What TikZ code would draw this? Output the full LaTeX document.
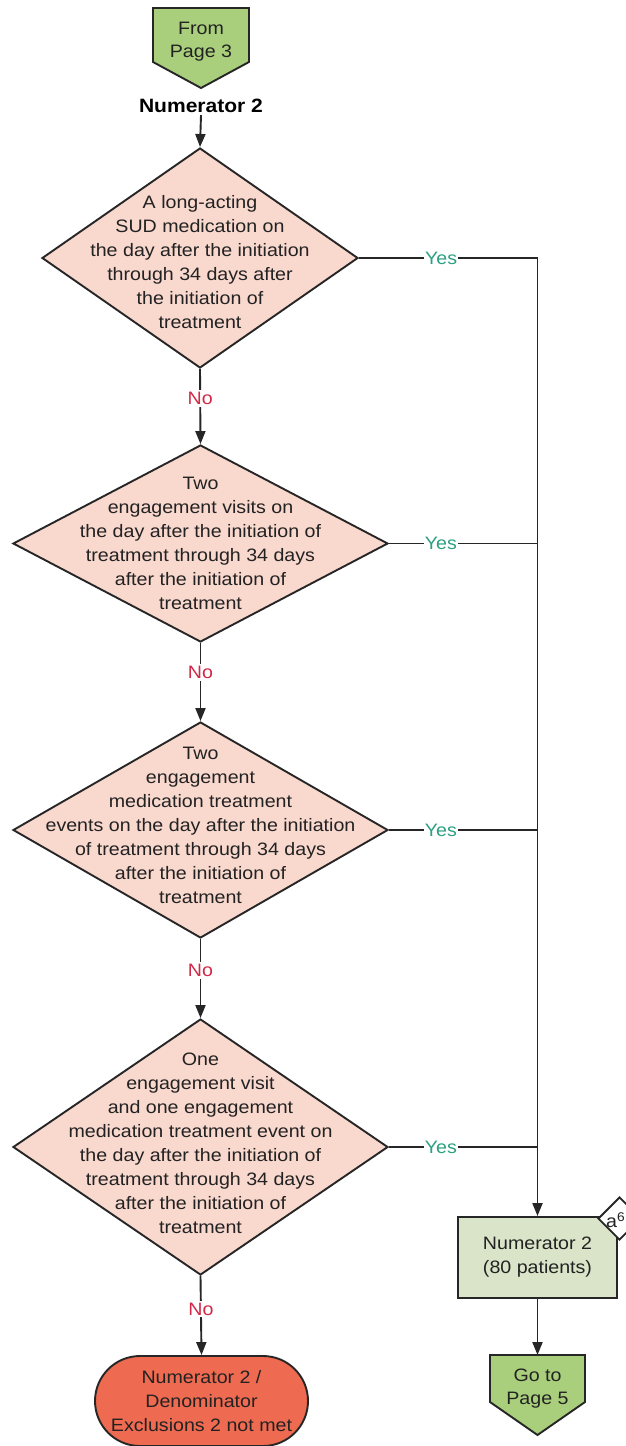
\documentclass[tikz,border=0pt]{standalone}
\usepackage{fontspec}
\setmainfont{Liberation Sans}[FakeStretch=1.09]
\usetikzlibrary{shapes.geometric,arrows.meta}
\definecolor{dfill}{HTML}{F9D8CE}
\definecolor{pgreen}{HTML}{A9CF7D}
\definecolor{boxc}{HTML}{DAE4C8}
\definecolor{termc}{HTML}{EE6A50}
\definecolor{yesc}{HTML}{2CA082}
\definecolor{noc}{HTML}{D22846}
\definecolor{linec}{HTML}{262626}
\definecolor{textc}{HTML}{222222}
\begin{document}
\begin{tikzpicture}[x=1pt,y=-1pt,
  line/.style={draw=linec, line width=1.9pt},
  arr/.style={line, -{Triangle[length=13pt,width=10pt]}},
  dec/.style={diamond, draw=linec, line width=1.9pt, fill=dfill, inner sep=0pt},
  txt/.style={align=center, font=\fontsize{18}{24}\selectfont, text=textc, inner sep=0pt},
  yes/.style={font=\fontsize{18}{20}\selectfont, text=yesc, fill=white, inner sep=1pt},
  no/.style={font=\fontsize{18}{20}\selectfont, text=noc, fill=white, inner sep=2pt}]
\useasboundingbox (0,0) rectangle (626,1446);
\fill[white] (0,0) rectangle (626,1446);

% From Page 3
\coordinate (p3tip) at (201,88);
\draw[line, fill=pgreen, line join=miter] (153,8) -- (249,8) -- (249,62) -- (p3tip) -- (153,62) -- cycle;
\node[txt, font=\fontsize{18}{23}\selectfont] (p3t) at (201,42) {From\\Page 3};
\node[font=\bfseries\fontsize{19.3}{22}\selectfont, text=black, inner sep=2pt] (num) at (201,106) {Numerator 2};

% decisions
\node[dec, minimum width=316pt, minimum height=220pt] (d1) at (200,258) {};
\node[txt] (d1t) at (200,262) {A long-acting\\SUD medication on\\the day after the initiation\\through 34 days after\\the initiation of\\treatment};

\node[dec, minimum width=375pt, minimum height=197pt] (d2) at (200.5,543.5) {};
\node[txt] (d2t) at (200.5,543) {Two\\engagement visits on\\the day after the initiation of\\treatment through 34 days\\after the initiation of\\treatment};

\node[dec, minimum width=375pt, minimum height=216pt] (d3) at (200.5,830) {};
\node[txt] (d3t) at (200.5,825) {Two\\engagement\\medication treatment\\events on the day after the initiation\\of treatment through 34 days\\after the initiation of\\treatment};

\node[dec, minimum width=375pt, minimum height=256pt] (d4) at (200.5,1147) {};
\node[txt] (d4t) at (200.5,1143.5) {One\\engagement visit\\and one engagement\\medication treatment event on\\the day after the initiation of\\treatment through 34 days\\after the initiation of\\treatment};

% terminal
\node[txt, draw=linec, line width=1.9pt, fill=termc, rounded corners=45pt,
  minimum width=213pt, minimum height=90pt] (term) at (201.5,1401) {Numerator 2 /\\Denominator\\Exclusions 2 not met};

% result box
\node[txt, draw=linec, line width=1.9pt, fill=boxc, minimum width=159pt,
  minimum height=81pt] (box) at (537.5,1257.5) {Numerator 2\\(80 patients)};

% Go to Page 5
\coordinate (g5top) at (537.5,1355);
\draw[line, fill=pgreen, line join=miter] (490,1355) -- (585,1355) -- (585,1402) -- (537.5,1435) -- (490,1402) -- cycle;
\node[txt, font=\fontsize{18}{23}\selectfont] (g5t) at (537.5,1389) {Go to\\Page 5};

% badge
\begin{scope}
\clip (0,0) rectangle (626,1446);
\node[diamond, draw=linec, line width=1.9pt, fill=white, inner sep=0pt,
  minimum width=43pt, minimum height=43pt] (badge) at (619.5,1218.5) {};
\node[anchor=west, font=\fontsize{18}{20}\selectfont, text=textc, inner sep=0pt] (badget) at (606,1220) {a\textsuperscript{6}};
\end{scope}

% connectors
\draw[arr] (num.south) -- (d1.north);
\draw[arr] (d1.south) -- node[no, pos=0.39]{No} (d2.north);
\draw[arr] (d2.south) -- node[no, pos=0.38]{No} (d3.north);
\draw[arr] (d3.south) -- node[no, pos=0.40]{No} (d4.north);
\draw[arr] (d4.south) -- node[no, pos=0.42]{No} (term.north);

\coordinate (j1) at (d1.east -| box.north);
\coordinate (j2) at (d2.east -| box.north);
\coordinate (j3) at (d3.east -| box.north);
\coordinate (j4) at (d4.east -| box.north);
\draw[line] (d1.east) -- node[yes, pos=0.46]{Yes} (j1);
\draw[line] (d2.east) -- node[yes, pos=0.35]{Yes} (j2);
\draw[line] (d3.east) -- node[yes, pos=0.35]{Yes} (j3);
\draw[line] (d4.east) -- node[yes, pos=0.35]{Yes} (j4);
\draw[arr] (j1) -- (box.north);
\draw[arr] (box.south) -- (g5top);
\end{tikzpicture}
\end{document}
